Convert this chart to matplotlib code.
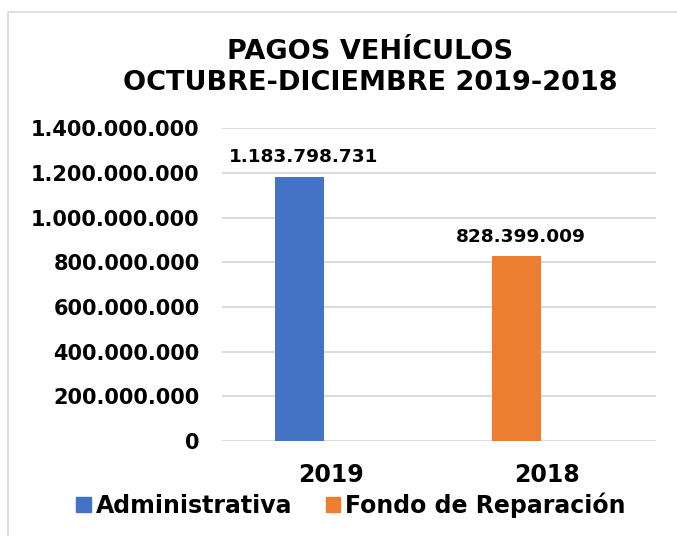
import matplotlib
matplotlib.use("Agg")
import matplotlib.pyplot as plt
import matplotlib.patches as patches
from matplotlib.ticker import FuncFormatter

# datos
categorias = ["2019", "2018"]
series = ["Administrativa", "Fondo de Reparación"]
valores = [1183798731, 828399009]
colores = ["#4472C4", "#ED7D31"]
titulo = "PAGOS VEHÍCULOS\nOCTUBRE-DICIEMBRE 2019-2018"
y_ticks = [0, 200000000, 400000000, 600000000, 800000000, 1000000000, 1200000000, 1400000000]


def miles(v, pos=None):
    return f"{int(v):,}".replace(",", ".")


plt.rcParams['font.family'] = ['DejaVu Sans']

fig = plt.figure(figsize=(6.77, 5.36), dpi=100)
W, H = 677, 536

# borde del gráfico
borde = patches.Rectangle((8 / W, -0.1), 1.2, 1 - 12 / H + 0.1, transform=fig.transFigure,
                          fill=False, edgecolor="#d9d9d9", linewidth=1.2)
fig.patches.append(borde)

ax = fig.add_axes([222 / W, 1 - 441 / H, (656 - 222) / W, (441 - 128.3) / H])

ancho = 0.224
desfase = -0.143
for i, (cat, val, col) in enumerate(zip(categorias, valores, colores)):
    x = i + desfase
    ax.bar(x, val, width=ancho, color=col, zorder=3, label=series[i])
    ax.annotate(miles(val), (x + 0.02, val), xytext=(0, 7.5), textcoords="offset points",
                ha="center", va="bottom", fontsize=13.3, fontweight="bold")

ax.set_xlim(-0.5, 1.5)
ax.set_ylim(0, 1400000000)
ax.set_yticks(y_ticks)
ax.yaxis.set_major_formatter(FuncFormatter(miles))
ax.set_xticks(range(len(categorias)))
ax.set_xticklabels(categorias)
ax.grid(axis="y", color="#d9d9d9", linewidth=1.3, zorder=0)
for s in ax.spines.values():
    s.set_visible(False)
ax.tick_params(axis="both", length=0)
ax.tick_params(axis="y", labelsize=15, pad=16)
ax.tick_params(axis="x", labelsize=17, pad=15.8)
for t in ax.get_yticklabels() + ax.get_xticklabels():
    t.set_fontweight("bold")

fig.text(370 / W, 1 - 67.5 / H, titulo, ha="center", va="center", fontsize=19.5,
         fontweight="bold", linespacing=1.22)

h = [patches.Patch(color=c) for c in colores]
fig.legend(h, series, loc="center", bbox_to_anchor=(351 / W, 1 - 505 / H), ncol=2,
           frameon=False, handlelength=0.63, handleheight=0.63, handletextpad=0.2,
           columnspacing=1.4, prop={"size": 17, "weight": "bold"})

fig.savefig("out.png", dpi=100, facecolor="white")
